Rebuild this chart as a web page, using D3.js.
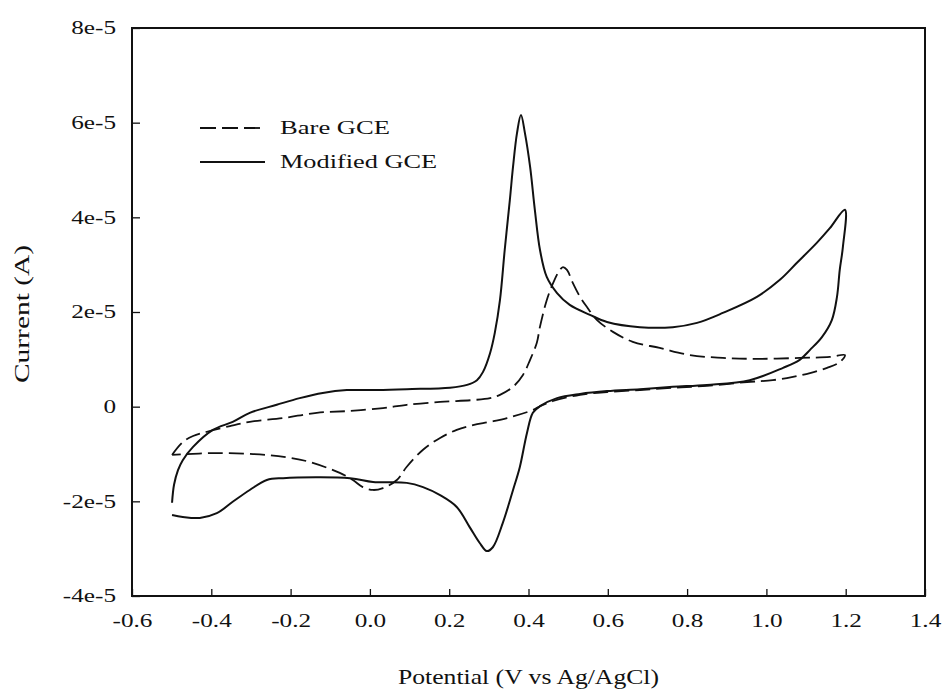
<!DOCTYPE html>
<html>
<head>
<meta charset="utf-8">
<script src="https://cdn.jsdelivr.net/npm/d3@7"></script>
<style>
  body { margin: 0; background: #fff; }
</style>
</head>
<body>
<div id="chart"></div>
<script>
// Cyclic voltammograms, current in units of 1e-5 A
const xTicks = [-0.6, -0.4, -0.2, 0.0, 0.2, 0.4, 0.6, 0.8, 1.0, 1.2, 1.4];
const yTicks = [-4, -2, 0, 2, 4, 6, 8];
const yTickLabels = ["-4e-5", "-2e-5", "0", "2e-5", "4e-5", "6e-5", "8e-5"];
const seriesNames = ["Bare GCE", "Modified GCE"];

// Bare GCE: forward scan then reverse scan
const bareV = [-0.499, -0.472, -0.446, -0.411, -0.353, -0.303, -0.219, -0.134, -0.050, 0.033, 0.093, 0.177, 0.260, 0.303, 0.328, 0.361, 0.386, 0.404, 0.421, 0.429, 0.446, 0.462, 0.479, 0.487, 0.497, 0.512, 0.530, 0.547, 0.573, 0.613, 0.663, 0.731, 0.807, 0.890, 0.976, 1.084, 1.160, 1.198,
  1.185, 1.153, 1.110, 1.067, 1.016, 0.951, 0.850, 0.764, 0.681, 0.598, 0.530, 0.462, 0.429, 0.411, 0.346, 0.303, 0.260, 0.219, 0.177, 0.134, 0.093, 0.068, 0.033, 0.008, -0.018, -0.043, -0.076, -0.151, -0.202, -0.260, -0.386, -0.499];
const bareI = [-1.02, -0.75, -0.62, -0.53, -0.41, -0.32, -0.24, -0.13, -0.09, -0.03, 0.04, 0.10, 0.14, 0.18, 0.25, 0.42, 0.67, 0.99, 1.35, 1.69, 2.25, 2.61, 2.89, 2.95, 2.89, 2.61, 2.32, 2.11, 1.83, 1.58, 1.37, 1.24, 1.09, 1.03, 1.01, 1.03, 1.05, 1.09,
  0.94, 0.82, 0.71, 0.63, 0.56, 0.52, 0.44, 0.40, 0.35, 0.31, 0.25, 0.12, 0.01, -0.07, -0.24, -0.32, -0.39, -0.49, -0.66, -0.91, -1.27, -1.55, -1.72, -1.76, -1.70, -1.55, -1.40, -1.17, -1.08, -1.02, -0.98, -1.02];

// Modified GCE: forward scan then reverse scan
const modV = [-0.499, -0.494, -0.484, -0.472, -0.446, -0.396, -0.346, -0.303, -0.235, -0.177, -0.119, -0.058, 0.008, 0.093, 0.202, 0.245, 0.270, 0.285, 0.303, 0.315, 0.328, 0.340, 0.353, 0.361, 0.371, 0.381, 0.391, 0.404, 0.416, 0.429, 0.446, 0.472, 0.504, 0.555, 0.598, 0.681, 0.764, 0.825, 0.890, 0.976, 1.034, 1.077, 1.127, 1.160, 1.198,
  1.193, 1.185, 1.178, 1.165, 1.140, 1.110, 1.084, 1.042, 0.958, 0.850, 0.764, 0.681, 0.598, 0.530, 0.472, 0.429, 0.411, 0.396, 0.378, 0.361, 0.335, 0.310, 0.295, 0.277, 0.252, 0.219, 0.177, 0.134, 0.093, 0.008, -0.050, -0.219, -0.260, -0.303, -0.346, -0.386, -0.429, -0.472, -0.499];
const modI = [-2.03, -1.65, -1.34, -1.13, -0.85, -0.49, -0.32, -0.13, 0.04, 0.18, 0.29, 0.35, 0.35, 0.37, 0.40, 0.46, 0.56, 0.73, 1.13, 1.56, 2.25, 3.31, 4.37, 5.07, 5.78, 6.16, 5.78, 5.07, 4.16, 3.31, 2.74, 2.40, 2.15, 1.94, 1.79, 1.68, 1.68, 1.77, 1.98, 2.32, 2.68, 3.04, 3.46, 3.77, 4.16,
  3.38, 2.89, 2.32, 1.83, 1.47, 1.20, 0.99, 0.82, 0.56, 0.46, 0.42, 0.37, 0.33, 0.27, 0.18, 0.01, -0.13, -0.56, -1.28, -1.76, -2.46, -2.97, -3.05, -2.88, -2.55, -2.12, -1.87, -1.70, -1.61, -1.59, -1.51, -1.51, -1.55, -1.76, -2.01, -2.25, -2.35, -2.33, -2.29];

const FONT = "'Liberation Serif', 'Times New Roman', 'DejaVu Serif', serif";
const W = 945, H = 693;
const margin = { top: 28, right: 20, bottom: 97, left: 132 };
const width = W - margin.left - margin.right;
const height = H - margin.top - margin.bottom;

// the reference text is drawn wide; widen glyphs by a factor
function widen(sel, k) {
    sel.each(function() {
        const w = this.getComputedTextLength();
        d3.select(this).attr("textLength", w * k).attr("lengthAdjust", "spacingAndGlyphs");
    });
}

const svg = d3.select("#chart").append("svg")
    .attr("width", W)
    .attr("height", H)
    .attr("font-family", FONT);

const g = svg.append("g")
    .attr("transform", `translate(${margin.left},${margin.top})`);

const x = d3.scaleLinear().domain([-0.6, 1.4]).range([0, width]);
const y = d3.scaleLinear().domain([-4, 8]).range([height, 0]);

// Axes with inward ticks
const xAxis = g.append("g")
    .attr("transform", `translate(0,${height})`)
    .call(d3.axisBottom(x).tickValues(xTicks).tickSize(-7).tickPadding(18).tickFormat(d => d.toFixed(1)));
const yAxis = g.append("g")
    .call(d3.axisLeft(y).tickValues(yTicks).tickSize(-8).tickPadding(16)
        .tickFormat((d, i) => yTickLabels[i]));

[xAxis, yAxis].forEach(a => {
    a.attr("font-family", FONT).attr("font-size", 18);
    a.select(".domain").remove();
    a.selectAll("line").attr("stroke", "#111").attr("stroke-width", 1.3);
    a.selectAll("text").attr("fill", "#111");
    widen(a.selectAll("text"), 1.4);
});
xAxis.selectAll("text").attr("dy", "0.71em");

// Frame
g.append("rect")
    .attr("width", width)
    .attr("height", height)
    .attr("fill", "none")
    .attr("stroke", "#111")
    .attr("stroke-width", 2);

// Curves
const line = d3.line()
    .x(d => x(d[0]))
    .y(d => y(d[1]))
    .curve(d3.curveCatmullRom.alpha(0.5));

const bare = bareV.map((v, i) => [v, bareI[i]]);
const mod = modV.map((v, i) => [v, modI[i]]);

g.append("path")
    .datum(bare)
    .attr("d", line)
    .attr("fill", "none")
    .attr("stroke", "#111")
    .attr("stroke-width", 1.8)
    .attr("stroke-dasharray", "15,6");

g.append("path")
    .datum(mod)
    .attr("d", line)
    .attr("fill", "none")
    .attr("stroke", "#111")
    .attr("stroke-width", 2);

// Legend
const legendWidths = [110, 157];
const legend = svg.append("g").attr("transform", "translate(200,128)");
seriesNames.forEach((name, i) => {
    const row = legend.append("g").attr("transform", `translate(0,${i * 34})`);
    row.append("line")
        .attr("x1", 0).attr("x2", i === 0 ? 60 : 65)
        .attr("stroke", "#111")
        .attr("stroke-width", 1.8)
        .attr("stroke-dasharray", i === 0 ? "16,6" : null);
    row.append("text")
        .attr("x", 80)
        .attr("dy", "0.35em")
        .attr("font-size", 18)
        .attr("fill", "#111")
        .attr("textLength", legendWidths[i])
        .attr("lengthAdjust", "spacingAndGlyphs")
        .text(name);
});

// Axis titles
svg.append("text")
    .attr("x", margin.left + width / 2)
    .attr("y", 684)
    .attr("text-anchor", "middle")
    .attr("font-size", 22)
    .attr("fill", "#111")
    .attr("textLength", 261)
    .attr("lengthAdjust", "spacingAndGlyphs")
    .text("Potential (V vs Ag/AgCl)");

svg.append("text")
    .attr("transform", `translate(29,${margin.top + height / 2 + 2}) rotate(-90)`)
    .attr("text-anchor", "middle")
    .attr("font-size", 21)
    .attr("fill", "#111")
    .attr("textLength", 138)
    .attr("lengthAdjust", "spacingAndGlyphs")
    .text("Current (A)");
</script>
</body>
</html>
